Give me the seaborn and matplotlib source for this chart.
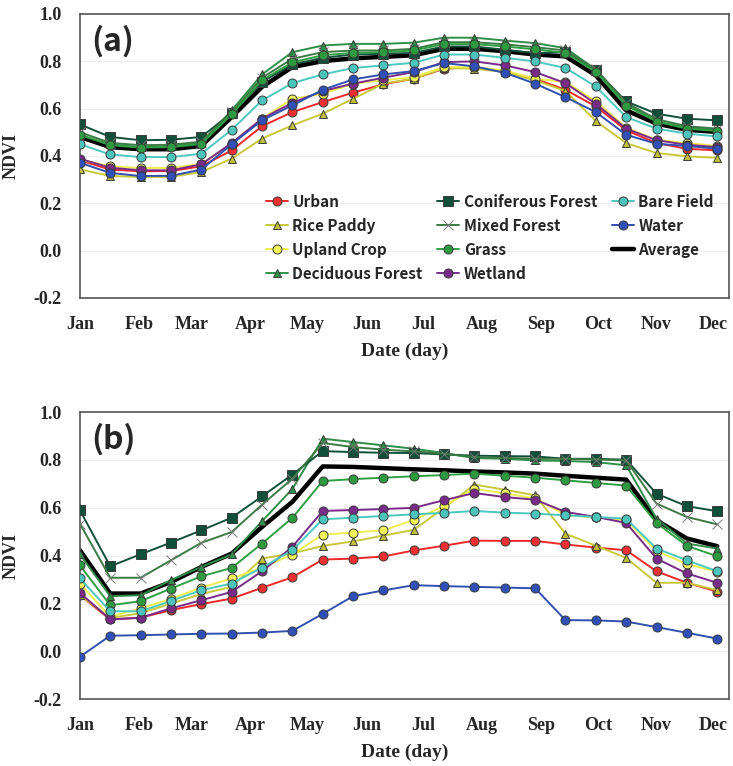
import matplotlib
matplotlib.use("Agg")
import matplotlib.pyplot as plt
import seaborn as sns
import pandas as pd

# composite days (16-day steps) and month ticks
days = [1 + 16 * k for k in range(22)]
month_days = [1, 32, 60, 91, 121, 152, 182, 213, 244, 274, 305, 335]
month_labels = ["Jan", "Feb", "Mar", "Apr", "May", "Jun", "Jul", "Aug", "Sep", "Oct", "Nov", "Dec"]

classes = ["Urban", "Rice Paddy", "Upland Crop", "Deciduous Forest", "Coniferous Forest",
           "Mixed Forest", "Grass", "Wetland", "Bare Field", "Water", "Average"]

# panel (a)
a_urban = [0.381, 0.342, 0.335, 0.336, 0.356, 0.423, 0.525, 0.585, 0.627, 0.667, 0.702, 0.726,
           0.768, 0.775, 0.754, 0.726, 0.679, 0.609, 0.508, 0.454, 0.430, 0.423]
a_rice = [0.343, 0.315, 0.311, 0.311, 0.332, 0.388, 0.473, 0.529, 0.578, 0.641, 0.705, 0.726,
          0.771, 0.768, 0.754, 0.719, 0.674, 0.547, 0.454, 0.412, 0.398, 0.392]
a_upland = [0.384, 0.356, 0.349, 0.349, 0.367, 0.451, 0.557, 0.641, 0.662, 0.705, 0.719, 0.733,
            0.775, 0.775, 0.761, 0.726, 0.712, 0.631, 0.519, 0.468, 0.454, 0.442]
a_deciduous = [0.487, 0.449, 0.437, 0.442, 0.454, 0.592, 0.744, 0.838, 0.866, 0.873, 0.873, 0.878,
               0.899, 0.899, 0.887, 0.876, 0.855, 0.765, 0.620, 0.545, 0.520, 0.510]
a_coniferous = [0.533, 0.480, 0.466, 0.468, 0.480, 0.581, 0.712, 0.786, 0.814, 0.828, 0.831, 0.835,
                0.862, 0.862, 0.848, 0.834, 0.838, 0.761, 0.630, 0.578, 0.557, 0.550]
a_mixed = [0.500, 0.455, 0.445, 0.447, 0.460, 0.585, 0.730, 0.810, 0.838, 0.845, 0.845, 0.852,
           0.880, 0.880, 0.871, 0.859, 0.845, 0.765, 0.625, 0.555, 0.525, 0.515]
a_grass = [0.490, 0.445, 0.435, 0.437, 0.450, 0.575, 0.720, 0.795, 0.825, 0.835, 0.838, 0.845,
           0.872, 0.872, 0.862, 0.850, 0.835, 0.755, 0.612, 0.545, 0.515, 0.505]
a_wetland = [0.388, 0.350, 0.339, 0.339, 0.364, 0.454, 0.557, 0.624, 0.674, 0.705, 0.730, 0.754,
             0.796, 0.799, 0.782, 0.754, 0.707, 0.620, 0.515, 0.466, 0.447, 0.437]
a_bare = [0.449, 0.406, 0.395, 0.395, 0.409, 0.510, 0.634, 0.707, 0.744, 0.771, 0.782, 0.793,
          0.828, 0.828, 0.814, 0.799, 0.771, 0.693, 0.564, 0.515, 0.494, 0.482]
a_water = [0.371, 0.328, 0.315, 0.316, 0.342, 0.449, 0.550, 0.613, 0.679, 0.723, 0.744, 0.758,
           0.792, 0.778, 0.751, 0.705, 0.648, 0.585, 0.489, 0.451, 0.442, 0.430]
a_average = [0.480, 0.437, 0.428, 0.428, 0.442, 0.564, 0.691, 0.775, 0.800, 0.812, 0.818, 0.825,
             0.852, 0.852, 0.842, 0.828, 0.820, 0.740, 0.592, 0.536, 0.510, 0.501]

# panel (b)
b_urban = [0.235, 0.134, 0.141, 0.173, 0.198, 0.221, 0.266, 0.310, 0.384, 0.388, 0.397, 0.422,
           0.442, 0.463, 0.462, 0.462, 0.447, 0.434, 0.423, 0.335, 0.287, 0.250]
b_rice = [0.235, 0.140, 0.160, 0.200, 0.240, 0.270, 0.388, 0.410, 0.441, 0.460, 0.484, 0.508,
          0.600, 0.697, 0.676, 0.652, 0.492, 0.442, 0.391, 0.287, 0.287, 0.256]
b_upland = [0.284, 0.145, 0.180, 0.220, 0.267, 0.305, 0.350, 0.405, 0.488, 0.497, 0.506, 0.549,
            0.608, 0.680, 0.660, 0.640, 0.570, 0.560, 0.550, 0.420, 0.365, 0.333]
b_deciduous = [0.406, 0.231, 0.235, 0.298, 0.353, 0.406, 0.544, 0.679, 0.889, 0.875, 0.861, 0.847,
               0.829, 0.808, 0.805, 0.798, 0.796, 0.791, 0.778, 0.555, 0.451, 0.430]
b_coniferous = [0.590, 0.356, 0.406, 0.455, 0.506, 0.559, 0.648, 0.739, 0.837, 0.833, 0.830, 0.829,
                0.823, 0.818, 0.816, 0.815, 0.805, 0.805, 0.801, 0.659, 0.607, 0.586]
b_mixed = [0.534, 0.308, 0.308, 0.381, 0.454, 0.499, 0.613, 0.722, 0.871, 0.854, 0.843, 0.836,
           0.826, 0.812, 0.809, 0.805, 0.805, 0.802, 0.798, 0.618, 0.562, 0.531]
b_grass = [0.360, 0.193, 0.210, 0.263, 0.314, 0.349, 0.451, 0.558, 0.712, 0.720, 0.726, 0.732,
           0.737, 0.743, 0.734, 0.726, 0.715, 0.704, 0.693, 0.537, 0.441, 0.398]
b_wetland = [0.245, 0.134, 0.141, 0.180, 0.214, 0.249, 0.335, 0.437, 0.587, 0.591, 0.595, 0.600,
             0.632, 0.662, 0.645, 0.634, 0.583, 0.562, 0.537, 0.388, 0.326, 0.287]
b_bare = [0.305, 0.168, 0.168, 0.211, 0.256, 0.284, 0.350, 0.423, 0.552, 0.559, 0.566, 0.573,
          0.579, 0.587, 0.580, 0.576, 0.569, 0.562, 0.555, 0.430, 0.381, 0.335]
b_water = [-0.022, 0.066, 0.068, 0.071, 0.074, 0.075, 0.079, 0.086, 0.157, 0.231, 0.255, 0.277,
           0.273, 0.270, 0.267, 0.264, 0.131, 0.130, 0.125, 0.102, 0.078, 0.054]
b_average = [0.423, 0.242, 0.242, 0.290, 0.353, 0.409, 0.520, 0.625, 0.773, 0.771, 0.766, 0.761,
             0.757, 0.752, 0.748, 0.743, 0.734, 0.726, 0.718, 0.548, 0.472, 0.440]

panel_a = [a_urban, a_rice, a_upland, a_deciduous, a_coniferous, a_mixed, a_grass,
           a_wetland, a_bare, a_water, a_average]
panel_b = [b_urban, b_rice, b_upland, b_deciduous, b_coniferous, b_mixed, b_grass,
           b_wetland, b_bare, b_water, b_average]

# (line colour, marker, marker face)
styles = {
    "Urban": ("#f02828", "o", "#f03030"),
    "Rice Paddy": ("#c8c83a", "^", "#c0c038"),
    "Upland Crop": ("#eeee50", "o", "#f2f25a"),
    "Deciduous Forest": ("#2f8f48", "^", "#2f8f48"),
    "Coniferous Forest": ("#10503a", "s", "#10503a"),
    "Mixed Forest": ("#3c7a44", "x", "#888888"),
    "Grass": ("#2ea042", "o", "#2e9a40"),
    "Wetland": ("#7a2a88", "o", "#7a2a88"),
    "Bare Field": ("#4cc8c0", "o", "#4cc4bc"),
    "Water": ("#3050b0", "o", "#3050b8"),
    "Average": ("#000000", None, "#000000"),
}

sns.set_style("white")
plt.rcParams["font.family"] = ["Liberation Serif", "DejaVu Serif"]

fig = plt.figure(figsize=(7.33, 7.66), dpi=100)
ax_a = fig.add_axes([0.109, 0.611, 0.885, 0.371])
ax_b = fig.add_axes([0.109, 0.087, 0.885, 0.375])


def draw_panel(ax, series, tag):
    order = ["Average"] + classes[:-1]
    for name in order:
        vals = series[classes.index(name)]
        color, marker, face = styles[name]
        df = pd.DataFrame({"day": days, "ndvi": vals})
        if name == "Average":
            sns.lineplot(data=df, x="day", y="ndvi", ax=ax, color=color, lw=3.2,
                         label=name, zorder=2)
        else:
            msize = 6.5 if marker != "^" else 6
            sns.lineplot(data=df, x="day", y="ndvi", ax=ax, color=color, lw=1.4,
                         marker=marker, markersize=msize, markerfacecolor=face,
                         markeredgecolor="#3a3a3a" if marker != "x" else "#777777",
                         markeredgewidth=0.7, label=name, zorder=3)
    ax.set_xlim(1, 343)
    ax.set_ylim(-0.2, 1.0)
    ax.set_yticks([-0.2, 0.0, 0.2, 0.4, 0.6, 0.8, 1.0])
    ax.set_yticklabels(["-0.2", "0.0", "0.2", "0.4", "0.6", "0.8", "1.0"])
    ax.set_xticks(month_days)
    ax.set_xticklabels(month_labels)
    ax.grid(axis="y", color="#eeeeee", lw=0.8)
    ax.tick_params(axis="both", direction="out", length=4, width=1, color="#555555",
                   labelsize=13, pad=9)
    for lab in ax.get_xticklabels() + ax.get_yticklabels():
        lab.set_fontweight("bold")
    for sp in ax.spines.values():
        sp.set_color("#555555")
        sp.set_linewidth(1.2)
    ax.set_xlabel("Date (day)", fontsize=14, fontweight="bold", labelpad=7)
    ax.set_ylabel("NDVI", fontsize=13, fontweight="bold", labelpad=10)
    ax.text(0.017, 0.96, tag, transform=ax.transAxes, ha="left", va="top",
            fontsize=23, fontweight="bold", family=["Noto Sans CJK KR", "DejaVu Sans"])


draw_panel(ax_a, panel_a, "(a)")
draw_panel(ax_b, panel_b, "(b)")
ax_b.get_legend().remove()

handles, labels = ax_a.get_legend_handles_labels()
hmap = dict(zip(labels, handles))
ax_a.legend([hmap[c] for c in classes], classes, ncol=3, loc="upper left",
            bbox_to_anchor=(0.265, 0.415), frameon=False, handlelength=1.45,
            handletextpad=0.3, columnspacing=0.95, labelspacing=0.52,
            prop={"family": ["Noto Sans CJK KR", "DejaVu Sans"], "weight": "bold", "size": 11})

fig.savefig("out.png", dpi=100)
